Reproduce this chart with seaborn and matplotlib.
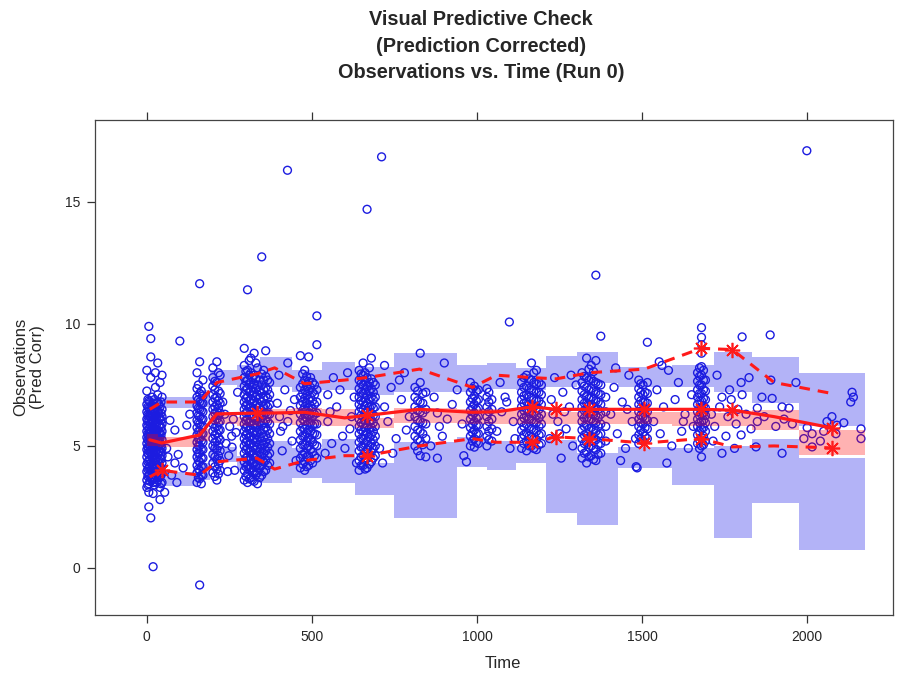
import numpy as np
import pandas as pd
import matplotlib
matplotlib.use("Agg")
import matplotlib.pyplot as plt
import seaborn as sns

# Time bins of the VPC (left edge, right edge, median time of the bin)
bin_lo = [0, 33, 154, 191, 272, 342, 439, 532, 629, 750, 938, 1031, 1119, 1210, 1304, 1428, 1591, 1718, 1833, 1975]
bin_hi = [33, 154, 191, 272, 342, 439, 532, 629, 750, 938, 1031, 1119, 1210, 1304, 1428, 1591, 1718, 1833, 1975, 2175]
bin_mid = [9, 45, 160, 212, 333, 387, 478, 599, 666, 826, 986, 1059, 1168, 1240, 1340, 1507, 1679, 1773, 1900, 2075]

# Observed percentiles (5th, median, 95th)
obs_p05 = [3.73, 4.0, 3.8, 4.35, 4.5, 4.05, 4.4, 4.6, 4.6, 5.0, 5.3, 5.15, 5.15, 5.37, 5.3, 5.12, 5.3, 4.96, 5.0, 4.92]
obs_p50 = [5.25, 5.12, 5.45, 6.31, 6.35, 6.35, 6.38, 6.15, 6.25, 6.5, 6.38, 6.4, 6.6, 6.5, 6.5, 6.5, 6.5, 6.47, 6.2, 5.74]
obs_p95 = [6.5, 6.8, 6.8, 7.6, 7.95, 8.2, 7.55, 7.7, 7.8, 8.15, 7.4, 7.9, 7.8, 7.75, 8.0, 8.15, 9.0, 8.95, 7.6, 7.15]

# Simulated confidence intervals of each percentile
ci05_lo = [3.5, 3.35, 3.6, 4.34, 4.0, 3.5, 3.7, 3.5, 3.0, 2.05, 4.15, 4.0, 4.3, 2.25, 1.76, 4.1, 3.4, 1.23, 2.66, 0.74]
ci05_hi = [4.2, 3.95, 4.3, 4.96, 4.6, 5.2, 4.9, 5.3, 4.3, 5.15, 5.35, 5.2, 5.0, 5.25, 4.7, 4.96, 4.9, 5.0, 5.3, 4.5]
ci50_lo = [5.0, 4.95, 5.2, 5.9, 5.8, 5.95, 5.85, 5.8, 5.75, 5.95, 5.9, 5.9, 5.9, 5.9, 5.9, 5.9, 5.8, 5.8, 5.66, 4.63]
ci50_hi = [5.5, 5.35, 5.7, 6.4, 6.2, 6.5, 6.55, 6.5, 6.15, 6.55, 6.5, 6.5, 6.45, 6.4, 6.4, 6.4, 6.4, 6.35, 6.47, 5.66]
ci95_lo = [6.3, 6.55, 6.6, 7.5, 7.4, 7.4, 7.2, 7.3, 7.1, 7.2, 7.2, 7.35, 7.3, 7.4, 7.6, 7.4, 7.4, 7.2, 6.76, 5.82]
ci95_hi = [7.0, 7.0, 7.3, 8.1, 8.3, 8.65, 8.1, 8.45, 8.25, 8.8, 8.3, 8.4, 8.2, 8.7, 8.85, 8.25, 8.3, 8.85, 8.65, 8.0]

# Observations (pred corrected), grouped by sampling occasion: time -> values
occ_day0 = {
    0: [3.6, 3.95, 4.25, 4.55, 4.85, 5.1, 5.35, 5.6, 5.85, 6.1, 6.4, 6.7, 7.25, 8.1, 3.3],
    3: [3.4, 3.75, 4.05, 4.35, 4.7, 4.95, 5.25, 5.5, 5.8, 6.05, 6.3, 6.6, 6.9],
    6: [3.45, 3.8, 4.1, 4.4, 4.65, 4.9, 5.2, 5.45, 5.7, 6.0, 6.25, 6.55, 6.85, 3.1, 2.5, 9.9],
    9: [3.55, 3.85, 4.15, 4.45, 4.75, 5.0, 5.3, 5.55, 5.9, 6.2, 6.45, 6.8],
    12: [3.7, 4.0, 4.3, 4.7, 4.95, 5.15, 5.4, 5.65, 5.95, 6.3, 6.6, 7.8, 2.05, 9.4, 8.65],
    16: [3.6, 3.95, 4.25, 4.6, 4.9, 5.2, 5.45, 5.75, 6.0, 6.3, 6.65, 7.0],
    19: [3.5, 3.9, 4.2, 4.5, 4.8, 5.05, 5.25, 5.5, 5.75, 6.05, 6.35, 6.75, 0.05, 3.05],
    23: [3.4, 3.7, 4.05, 4.4, 4.65, 4.95, 5.3, 5.6, 5.85, 6.15, 6.45, 6.9],
    26: [3.8, 4.1, 4.4, 4.75, 5.0, 5.2, 5.45, 5.7, 5.95, 6.25, 6.55, 8.0, 7.4],
    30: [3.5, 3.85, 4.2, 4.5, 4.85, 5.1, 5.35, 5.6, 5.9, 6.2, 6.5, 6.75],
    33: [3.6, 4.0, 4.35, 4.65, 4.95, 5.2, 5.4, 5.65, 6.0, 6.4, 6.8, 7.1, 8.4],
    37: [3.7, 4.05, 4.4, 4.75, 5.05, 5.3, 5.55, 5.8, 6.1, 6.35, 6.7],
    40: [3.3, 3.75, 4.15, 4.5, 4.8, 5.1, 5.3, 5.55, 5.85, 6.15, 6.6, 7.6, 2.8],
    43: [3.45, 3.8, 4.1, 4.45, 4.75, 5.0, 5.45, 5.75, 6.05, 6.35, 6.8],
    46: [3.5, 3.9, 4.3, 4.6, 4.9, 5.25, 5.6, 5.9, 6.2, 6.5, 7.0, 7.9],
}
occ_day160 = {
    152: [3.5, 3.9, 4.2, 4.55, 4.85, 5.15, 5.45, 5.75, 6.05, 6.35, 6.65, 7.0, 7.35, 8.0],
    156: [3.7, 4.05, 4.4, 4.7, 5.0, 5.3, 5.6, 5.95, 6.25, 6.55, 6.9, 7.5],
    160: [3.65, 4.0, 4.35, 4.7, 5.0, 5.3, 5.6, 5.9, 6.2, 6.5, 6.8, 7.15, 11.65, -0.7, 8.45],
    165: [3.45, 3.8, 4.15, 4.5, 4.85, 5.2, 5.5, 5.8, 6.1, 6.45, 6.75, 7.25],
    170: [3.8, 4.15, 4.5, 4.85, 5.15, 5.5, 5.8, 6.1, 6.4, 6.75, 7.05, 7.7],
    200: [3.9, 4.3, 4.65, 5.0, 5.3, 5.6, 5.9, 6.2, 6.5, 6.8, 7.1, 7.45, 7.8, 8.2],
    206: [3.75, 4.15, 4.55, 4.9, 5.15, 5.45, 5.75, 6.05, 6.35, 6.6, 6.95, 7.3, 7.65],
    212: [3.6, 4.05, 4.45, 4.85, 5.2, 5.5, 5.8, 6.1, 6.4, 6.7, 7.0, 7.6, 8.45],
    217: [3.85, 4.25, 4.6, 5.0, 5.35, 5.65, 5.95, 6.25, 6.55, 6.85, 7.25, 8.0],
    222: [4.0, 4.4, 4.8, 5.25, 5.65, 6.0, 6.35, 6.75, 7.15, 7.9],
}
occ_day330 = {
    295: [3.6, 4.0, 4.35, 4.7, 5.0, 5.3, 5.6, 5.9, 6.2, 6.5, 6.8, 7.1, 7.45, 7.8, 8.3, 9.0],
    300: [3.75, 4.15, 4.5, 4.85, 5.15, 5.45, 5.75, 6.05, 6.35, 6.65, 6.95, 7.3, 7.65, 8.05],
    305: [3.5, 3.85, 4.2, 4.55, 4.9, 5.2, 5.5, 5.8, 6.1, 6.4, 6.7, 7.0, 7.35, 7.7, 8.1, 11.4],
    310: [3.65, 4.05, 4.4, 4.75, 5.05, 5.35, 5.65, 5.95, 6.25, 6.55, 6.85, 7.2, 7.5, 7.9, 8.5],
    315: [3.7, 4.1, 4.45, 4.8, 5.1, 5.4, 5.7, 6.0, 6.3, 6.6, 6.9, 7.25, 7.6, 8.0, 8.6],
    320: [3.6, 3.95, 4.3, 4.65, 4.95, 5.25, 5.55, 5.85, 6.15, 6.45, 6.75, 7.05, 7.4, 7.8],
    325: [3.55, 3.95, 4.3, 4.65, 5.0, 5.3, 5.6, 5.9, 6.2, 6.5, 6.85, 7.2, 7.55, 7.9, 8.8],
    330: [3.8, 4.15, 4.5, 4.85, 5.15, 5.45, 5.75, 6.05, 6.35, 6.65, 7.0, 7.35, 7.75, 8.4],
    335: [3.45, 3.9, 4.25, 4.6, 4.95, 5.25, 5.55, 5.85, 6.15, 6.45, 6.75, 7.1, 7.5, 8.2],
    342: [3.7, 4.1, 4.4, 4.75, 5.05, 5.35, 5.65, 6.0, 6.3, 6.6, 6.95, 7.3, 7.7],
    348: [3.8, 4.2, 4.55, 4.9, 5.2, 5.5, 5.85, 6.15, 6.45, 6.8, 7.15, 7.5, 7.95, 12.75],
    354: [3.95, 4.35, 4.7, 5.05, 5.35, 5.65, 5.95, 6.25, 6.6, 6.95, 7.3, 7.7, 8.1],
    360: [4.0, 4.4, 4.8, 5.15, 5.45, 5.75, 6.05, 6.35, 6.7, 7.05, 7.4, 7.85, 8.9],
    366: [4.2, 4.6, 4.95, 5.3, 5.65, 6.0, 6.3, 6.6, 6.95, 7.3, 7.7],
    372: [4.3, 4.7, 5.1, 5.5, 5.9, 6.3, 6.7, 7.1, 7.6],
}
occ_day490 = {
    465: [4.1, 4.5, 4.9, 5.25, 5.6, 5.95, 6.3, 6.65, 7.0, 7.4, 8.7],
    472: [4.25, 4.65, 5.05, 5.4, 5.75, 6.1, 6.45, 6.8, 7.15, 7.55, 7.95],
    478: [4.0, 4.35, 4.7, 5.05, 5.4, 5.7, 6.0, 6.3, 6.6, 6.95, 7.3, 7.7, 8.1],
    484: [4.15, 4.55, 4.9, 5.2, 5.55, 5.85, 6.15, 6.45, 6.75, 7.1, 7.45, 7.85],
    490: [4.2, 4.6, 5.0, 5.35, 5.65, 5.95, 6.25, 6.55, 6.9, 7.25, 7.65, 8.65],
    496: [4.4, 4.85, 5.25, 5.6, 5.95, 6.3, 6.65, 7.0, 7.4, 7.8],
    502: [4.3, 4.75, 5.15, 5.5, 5.85, 6.2, 6.5, 6.85, 7.2, 7.6],
    508: [4.6, 5.05, 5.5, 5.9, 6.3, 6.7, 7.1, 7.5],
    515: [4.5, 5.0, 5.45, 5.9, 6.35, 6.8, 7.3, 9.15, 10.33],
}
occ_day670 = {
    643: [4.0, 4.4, 4.8, 5.15, 5.5, 5.8, 6.1, 6.4, 6.7, 7.0, 7.35, 7.7, 8.1],
    649: [4.2, 4.55, 4.95, 5.3, 5.65, 5.95, 6.25, 6.55, 6.85, 7.2, 7.55, 7.95],
    655: [4.2, 4.6, 4.95, 5.3, 5.6, 5.9, 6.2, 6.5, 6.8, 7.15, 7.5, 7.9, 8.4],
    661: [4.05, 4.4, 4.75, 5.1, 5.45, 5.75, 6.05, 6.35, 6.65, 6.95, 7.3, 7.65, 8.0],
    667: [4.1, 4.5, 4.85, 5.2, 5.55, 5.85, 6.15, 6.45, 6.75, 7.1, 7.45, 7.8, 14.7],
    674: [4.25, 4.65, 5.0, 5.35, 5.7, 6.0, 6.3, 6.6, 6.9, 7.25, 7.6, 8.2],
    680: [4.35, 4.75, 5.1, 5.45, 5.75, 6.05, 6.35, 6.65, 7.0, 7.35, 7.75, 8.6],
    686: [4.5, 4.9, 5.25, 5.6, 5.95, 6.25, 6.55, 6.9, 7.2, 7.6],
    692: [4.6, 5.0, 5.4, 5.8, 6.2, 6.6, 7.0, 7.5],
}
occ_day830 = {
    812: [5.0, 5.4, 5.8, 6.2, 6.6, 7.0, 7.4],
    820: [4.8, 5.25, 5.65, 6.05, 6.45, 6.85, 7.25],
    828: [4.6, 5.2, 5.6, 6.0, 6.4, 6.8, 7.6, 8.8],
    836: [5.05, 5.5, 5.95, 6.35, 6.75, 7.15],
    845: [5.3, 5.9, 6.5, 7.2, 4.55],
}
occ_day1000 = {
    980: [5.0, 5.4, 5.75, 6.1, 6.45, 6.8, 7.2, 7.6],
    986: [5.2, 5.55, 5.9, 6.25, 6.6, 6.95, 7.35],
    992: [4.95, 5.3, 5.65, 6.0, 6.35, 6.7, 7.05, 7.45],
    998: [5.15, 5.5, 5.85, 6.15, 6.5, 6.85, 7.25],
    1004: [5.1, 5.5, 5.85, 6.2, 6.55, 6.9, 7.3],
    1030: [5.0, 5.4, 5.8, 6.2, 6.6, 7.0, 7.35],
    1036: [5.25, 5.6, 6.0, 6.4, 6.8, 7.2],
    1045: [5.2, 5.7, 6.1, 6.5, 6.9],
}
occ_day1165 = {
    1135: [4.9, 5.3, 5.65, 6.0, 6.3, 6.6, 6.9, 7.2, 7.6],
    1142: [5.1, 5.45, 5.8, 6.15, 6.45, 6.75, 7.05, 7.4, 7.8],
    1150: [4.8, 5.2, 5.55, 5.9, 6.2, 6.5, 6.8, 7.1, 7.45, 7.9],
    1158: [5.0, 5.4, 5.75, 6.1, 6.4, 6.7, 7.0, 7.35, 7.75],
    1165: [5.0, 5.35, 5.7, 6.05, 6.35, 6.65, 6.95, 7.3, 7.7, 8.4],
    1172: [4.9, 5.3, 5.65, 5.95, 6.3, 6.6, 6.9, 7.25, 7.6, 8.0],
    1180: [4.85, 5.25, 5.6, 5.95, 6.25, 6.55, 6.85, 7.2, 7.55, 8.1],
    1188: [5.05, 5.45, 5.8, 6.15, 6.5, 6.85, 7.2, 7.6],
    1195: [5.1, 5.5, 5.9, 6.3, 6.7, 7.1, 7.5],
}
occ_day1345 = {
    1318: [4.5, 4.9, 5.3, 5.65, 6.0, 6.3, 6.6, 6.9, 7.25, 7.6, 8.0],
    1325: [4.7, 5.1, 5.45, 5.8, 6.15, 6.45, 6.75, 7.1, 7.45, 7.85],
    1332: [4.3, 4.75, 5.15, 5.5, 5.85, 6.15, 6.45, 6.75, 7.05, 7.4, 7.8, 8.6],
    1339: [4.55, 4.95, 5.35, 5.7, 6.05, 6.35, 6.65, 6.95, 7.3, 7.7, 8.15],
    1346: [4.6, 5.0, 5.4, 5.75, 6.1, 6.4, 6.7, 7.0, 7.35, 7.75, 8.3],
    1353: [4.45, 4.9, 5.3, 5.65, 6.0, 6.3, 6.6, 6.9, 7.25, 7.65, 8.05],
    1360: [4.4, 4.85, 5.25, 5.6, 5.95, 6.25, 6.55, 6.85, 7.2, 7.6, 8.5, 12.0],
    1367: [4.65, 5.05, 5.45, 5.8, 6.15, 6.5, 6.8, 7.15, 7.55],
    1375: [4.7, 5.1, 5.5, 5.9, 6.3, 6.7, 7.1, 7.5, 9.5],
    1390: [5.2, 5.8, 6.4, 7.0],
}
occ_day1500 = {
    1490: [5.1, 5.45, 5.8, 6.1, 6.4, 6.7, 7.0, 7.35, 7.7],
    1496: [5.3, 5.65, 5.95, 6.25, 6.55, 6.85, 7.2, 7.55],
    1503: [5.2, 5.55, 5.9, 6.2, 6.5, 6.8, 7.1, 7.5],
    1509: [5.4, 5.75, 6.1, 6.45, 6.8, 7.2],
    1516: [5.3, 5.7, 6.05, 6.4, 6.75, 7.15, 7.6, 9.25],
}
occ_day1680 = {
    1668: [5.1, 5.45, 5.8, 6.1, 6.4, 6.7, 7.0, 7.3, 7.65, 8.0],
    1674: [4.9, 5.25, 5.6, 5.95, 6.25, 6.55, 6.85, 7.15, 7.5, 7.85, 8.2],
    1680: [4.55, 5.0, 5.35, 5.7, 6.0, 6.3, 6.55, 6.85, 7.15, 7.5, 7.9, 8.25, 8.8, 9.15, 9.45, 9.85],
    1686: [5.05, 5.4, 5.75, 6.05, 6.35, 6.65, 6.95, 7.3, 7.7, 8.1],
    1692: [5.2, 5.6, 5.95, 6.25, 6.55, 6.9, 7.25, 7.7],
}

# Scattered observations between the main sampling occasions (time, value)
scattered = [
    (54, 3.1), (64, 4.55), (70, 6.05), (85, 5.65), (85, 4.3), (91, 3.5), (100, 9.3), (121, 5.85),
    (110, 4.1), (75, 3.8), (60, 4.9), (130, 6.3), (95, 4.65),
    (230, 6.8), (236, 6.3), (251, 5.8), (257, 5.4), (266, 4.0), (245, 3.95), (240, 5.1), (262, 6.1),
    (270, 5.55), (248, 4.6), (275, 7.2), (258, 4.95),
    (395, 6.75), (405, 5.6), (410, 4.8), (418, 7.3), (426, 16.3), (427, 8.4), (427, 6.0), (440, 5.2),
    (447, 6.9), (452, 4.4), (400, 7.9), (435, 6.45), (402, 6.2), (412, 5.8),
    (548, 7.1), (575, 6.6), (548, 6.0), (593, 5.4), (608, 8.0), (635, 4.3), (560, 5.1), (585, 7.3),
    (620, 6.2), (540, 4.7), (600, 4.9), (565, 7.8), (615, 5.7), (628, 7.0), (555, 6.4),
    (711, 16.85), (720, 8.3), (720, 6.6), (705, 4.9), (714, 4.3), (771, 6.9), (795, 6.2), (786, 5.65),
    (740, 7.4), (755, 5.3), (730, 6.0), (765, 7.7), (745, 4.7), (780, 8.0),
    (880, 6.35), (886, 5.8), (880, 4.5), (901, 8.4), (870, 7.0), (910, 6.1), (860, 5.0), (925, 6.7),
    (895, 5.4), (940, 7.3), (955, 5.9), (960, 4.6),
    (968, 4.35), (1060, 5.6), (1075, 6.4), (1085, 7.0), (1098, 10.08), (1100, 4.9), (1110, 6.0),
    (1070, 7.6), (1115, 5.3), (1090, 6.8),
    (1220, 5.3), (1225, 6.9), (1235, 7.8), (1245, 6.0), (1255, 4.5), (1260, 7.2), (1270, 5.7),
    (1280, 6.6), (1290, 5.0), (1300, 7.5), (1230, 6.3), (1265, 6.4), (1285, 7.9), (1250, 5.5),
    (1405, 6.3), (1415, 7.4), (1425, 5.5), (1440, 6.8), (1450, 4.9), (1460, 7.9), (1470, 6.0),
    (1480, 5.3), (1420, 8.2), (1455, 6.5), (1435, 4.4), (1482, 4.15), (1485, 4.1),
    (1535, 6.0), (1545, 7.3), (1555, 5.5), (1565, 6.6), (1580, 8.1), (1590, 5.0), (1600, 6.9),
    (1610, 7.6), (1620, 5.6), (1630, 6.3), (1640, 4.9), (1650, 7.1), (1560, 8.3), (1575, 4.3),
    (1625, 6.0), (1655, 5.8), (1552, 8.45),
    (1727, 7.9), (1803, 9.47), (1800, 7.6), (1824, 7.8), (1742, 7.0), (1803, 7.1), (1863, 7.0),
    (1894, 6.95), (1849, 6.55), (1924, 6.6), (1849, 6.0), (1754, 5.4), (1800, 5.45), (1742, 4.7),
    (1845, 4.96), (1924, 4.7), (1890, 7.7), (1966, 7.6), (1945, 6.55), (1888, 9.55), (1999, 17.1),
    (1710, 6.3), (1720, 5.8), (1735, 6.6), (1760, 6.2), (1770, 6.9), (1785, 5.9), (1790, 6.5),
    (1815, 6.3), (1830, 5.7), (1870, 6.2), (1905, 5.8), (1930, 6.1), (1955, 5.9), (1765, 7.3),
    (1715, 5.2), (1780, 4.9),
    (2060, 6.0), (2075, 6.2), (2111, 5.95), (1990, 5.3), (2015, 5.5), (2015, 4.96), (2087, 5.5),
    (2136, 7.2), (2140, 7.0), (2132, 6.8), (2163, 5.7), (2163, 5.3), (2040, 5.2), (2090, 5.85),
    (2000, 5.75), (2050, 5.6),
]

# ---- build long table of observations
rows = []
for occ in [occ_day0, occ_day160, occ_day330, occ_day490, occ_day670, occ_day830,
            occ_day1000, occ_day1165, occ_day1345, occ_day1500, occ_day1680]:
    for t, vals in occ.items():
        rows += [(t, v) for v in vals]
rows += scattered
obs = pd.DataFrame(rows, columns=["time", "obs"])

sns.set_theme(style="white")
plt.rcParams["font.family"] = ["Liberation Sans", "DejaVu Sans"]

fig = plt.figure(figsize=(9.01, 6.74), dpi=100)
ax = fig.add_axes([95 / 901, 1 - 615 / 674, (893 - 95) / 901, (615 - 120) / 674])

# shaded CI boxes
lo_edge = np.array(bin_lo)
width = np.array(bin_hi) - lo_edge
blue_box = "#b3b3f7"
for lo, hi in [(ci05_lo, ci05_hi), (ci95_lo, ci95_hi)]:
    ax.bar(lo_edge, np.array(hi) - np.array(lo), bottom=lo, width=width, align="edge",
           color=blue_box, linewidth=0, zorder=1)

# observations
sns.scatterplot(data=obs, x="time", y="obs", ax=ax, marker="o", s=32,
                facecolor="none", edgecolor="#1c1ce0", linewidth=1.0, zorder=2)

# median CI drawn semi transparent over the points
ax.bar(lo_edge, np.array(ci50_hi) - np.array(ci50_lo), bottom=ci50_lo, width=width,
       align="edge", color="#ff0000", alpha=0.3, linewidth=0, zorder=3)

# observed percentile lines
red = "#ff1a1a"
sns.lineplot(x=bin_mid, y=obs_p50, ax=ax, color=red, lw=2.3, sort=False, estimator=None, zorder=4)
for p in [obs_p05, obs_p95]:
    sns.lineplot(x=bin_mid, y=p, ax=ax, color=red, lw=2.2, sort=False, estimator=None, zorder=4)
    ax.lines[-1].set_dashes([3.5, 2.6])

# stars where the observed percentile falls outside its CI
for p, lo, hi in [(obs_p05, ci05_lo, ci05_hi), (obs_p50, ci50_lo, ci50_hi), (obs_p95, ci95_lo, ci95_hi)]:
    p, lo, hi = map(np.array, (p, lo, hi))
    out = (p < lo) | (p > hi)
    ax.plot(np.array(bin_mid)[out], p[out], ls="none", marker=(8, 2, 0), ms=11, mew=1.2,
            color=red, zorder=5)

ax.set_xlim(-157, 2260)
ax.set_ylim(-1.93, 18.36)
ax.set_xticks([0, 500, 1000, 1500, 2000])
ax.set_yticks([0, 5, 10, 15])
ax.tick_params(axis="x", which="both", top=True, bottom=True, labeltop=False, direction="out",
               length=5.5, width=0.9, color="#333333", labelsize=10, pad=5)
ax.tick_params(axis="y", left=True, right=False, direction="out",
               length=5.5, width=0.9, color="#333333", labelsize=10, pad=5)
for s in ax.spines.values():
    s.set_color("#444444")
    s.set_linewidth(0.9)
ax.set_xlabel("")
ax.set_ylabel("")

fig.text(503 / 901, 1 - 664 / 674, "Time", ha="center", va="center", fontsize=12)
fig.text(29 / 901, 1 - 367 / 674, "Observations\n(Pred Corr)", ha="center", va="center",
         rotation=90, fontsize=12, multialignment="center")
fig.text(481 / 901, 1 - 46 / 674,
         "Visual Predictive Check\n(Prediction Corrected)\nObservations vs. Time (Run 0)",
         ha="center", va="center", fontsize=14.3, fontweight="bold", linespacing=1.5)

fig.savefig("out.png", dpi=100)
